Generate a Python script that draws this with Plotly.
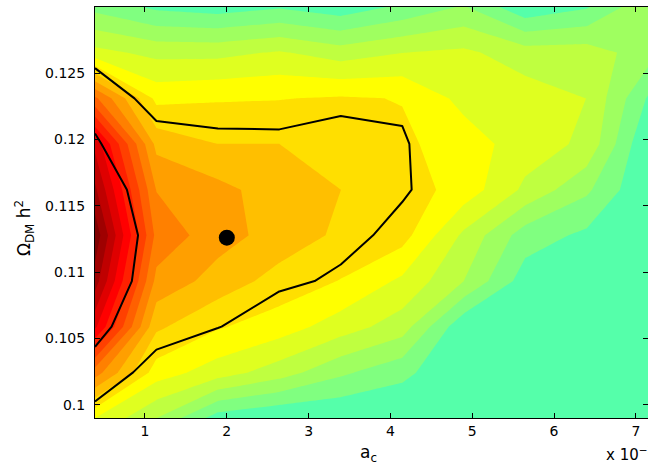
import plotly.graph_objects as go

# Grid of the scan: a_c (in units of 1e-3) and Omega_DM h^2
a_c = [0.389, 1.140, 1.891, 2.642, 3.393, 4.144, 4.895, 5.646, 6.397, 7.148]
omega_dm = [0.09900, 0.10244, 0.10589, 0.10933, 0.11278,
            0.11622, 0.11967, 0.12311, 0.12656, 0.13000]

# Mean likelihood (normalised to 1), rows = omega_dm, columns = a_c
mean_like = [
    [0.278, 0.167, 0.028, 0.000, 0.000, 0.000, 0.000, 0.000, 0.000, 0.000],
    [0.528, 0.306, 0.250, 0.194, 0.122, 0.072, 0.000, 0.000, 0.000, 0.000],
    [0.789, 0.400, 0.339, 0.306, 0.250, 0.194, 0.011, 0.000, 0.000, 0.000],
    [0.917, 0.483, 0.422, 0.367, 0.331, 0.267, 0.167, 0.028, 0.000, 0.000],
    [0.983, 0.539, 0.467, 0.422, 0.378, 0.356, 0.211, 0.083, 0.044, 0.000],
    [0.900, 0.498, 0.461, 0.417, 0.389, 0.361, 0.311, 0.211, 0.122, 0.000],
    [0.817, 0.428, 0.389, 0.389, 0.361, 0.344, 0.306, 0.250, 0.211, 0.000],
    [0.567, 0.317, 0.328, 0.331, 0.339, 0.331, 0.261, 0.250, 0.222, 0.050],
    [0.239, 0.206, 0.206, 0.228, 0.194, 0.221, 0.233, 0.194, 0.194, 0.139],
    [0.094, 0.044, 0.028, 0.050, 0.022, 0.067, 0.117, 0.011, 0.050, 0.156],
]

# Marginalised 2D density (normalised to 1)
marg_density = [
    [0.074, 0.020, 0.010, 0.005, 0.000, 0.000, 0.000, 0.000, 0.000, 0.000],
    [0.424, 0.063, 0.040, 0.030, 0.020, 0.010, 0.000, 0.000, 0.000, 0.000],
    [0.560, 0.338, 0.205, 0.122, 0.080, 0.040, 0.020, 0.010, 0.000, 0.000],
    [0.900, 0.233, 0.250, 0.223, 0.183, 0.140, 0.060, 0.020, 0.010, 0.000],
    [1.000, 0.286, 0.260, 0.240, 0.230, 0.173, 0.100, 0.040, 0.010, 0.000],
    [0.750, 0.269, 0.270, 0.260, 0.250, 0.210, 0.145, 0.060, 0.020, 0.000],
    [0.520, 0.331, 0.280, 0.270, 0.260, 0.215, 0.086, 0.040, 0.010, 0.000],
    [0.433, 0.070, 0.045, 0.051, 0.162, 0.177, 0.060, 0.020, 0.005, 0.000],
    [0.080, 0.020, 0.010, 0.010, 0.020, 0.020, 0.010, 0.000, 0.000, 0.000],
    [0.010, 0.000, 0.000, 0.000, 0.000, 0.000, 0.000, 0.000, 0.000, 0.000],
]
level_95 = 0.2
level_68 = 0.5

# Best-fit point
best_a_c = [2.0]
best_omega = [0.1126]

x_ticks = [1, 2, 3, 4, 5, 6, 7]
y_ticks = [0.1, 0.105, 0.11, 0.115, 0.12, 0.125]
y_tick_text = ["0.1", "0.105", "0.11", "0.115", "0.12", "0.125"]

# Discrete jet-like shading, one colour per likelihood band
band_colors = [
    "rgb(85,255,170)", "rgb(128,255,128)", "rgb(159,255,96)", "rgb(191,255,64)",
    "rgb(223,255,32)", "rgb(255,255,0)", "rgb(255,223,0)", "rgb(255,191,0)",
    "rgb(255,159,0)", "rgb(255,128,0)", "rgb(255,96,0)", "rgb(255,64,0)",
    "rgb(255,32,0)", "rgb(255,0,0)", "rgb(223,0,0)", "rgb(191,0,0)",
    "rgb(159,0,0)", "rgb(128,0,0)",
]
n_bands = len(band_colors)
colorscale = [[k / (n_bands - 1), c] for k, c in enumerate(band_colors)]
step = 1.0 / n_bands

fig = go.Figure()

fig.add_trace(go.Contour(
    x=a_c, y=omega_dm, z=mean_like,
    colorscale=colorscale, showscale=False,
    contours=dict(coloring="fill", showlines=False,
                  start=step, end=(n_bands - 1) * step, size=step),
    line=dict(width=0, smoothing=0),
    hoverinfo="skip",
))

fig.add_trace(go.Contour(
    x=a_c, y=omega_dm, z=marg_density,
    showscale=False,
    contours=dict(coloring="none", start=level_95, end=level_68,
                  size=level_68 - level_95),
    line=dict(color="black", width=2, smoothing=0),
    hoverinfo="skip",
))

fig.add_trace(go.Scatter(
    x=best_a_c, y=best_omega, mode="markers",
    marker=dict(color="black", size=16),
    hoverinfo="skip", showlegend=False,
))

font = dict(family="DejaVu Sans", size=14, color="black")
title_font = dict(family="DejaVu Sans", size=17, color="black")

fig.update_xaxes(
    range=[a_c[0], a_c[-1]], tickvals=x_ticks, ticks="inside", ticklen=5,
    tickcolor="black", showline=True, linecolor="black", linewidth=1,
    mirror="ticks", showgrid=False, zeroline=False, tickfont=font,
)
fig.update_yaxes(
    range=[omega_dm[0], omega_dm[-1]], tickvals=y_ticks, ticktext=y_tick_text,
    ticks="inside", ticklen=5, tickcolor="black", showline=True,
    linecolor="black", linewidth=1, mirror="ticks", showgrid=False,
    zeroline=False, tickfont=font, ticklabelstandoff=6,
)

# Axis labels and the x-axis multiplier
fig.add_annotation(
    text="a<sub>c</sub>", xref="paper", yref="paper",
    x=0.5, y=0, xanchor="center", yanchor="top", yshift=-22, xshift=-3,
    showarrow=False, font=title_font,
)
fig.add_annotation(
    text="Ω<sub>DM</sub> h<sup>2</sup>", xref="paper", yref="paper",
    x=0, y=0.462, xanchor="center", yanchor="middle", xshift=-71,
    textangle=-90, showarrow=False, font=title_font,
)
fig.add_annotation(
    text="x 10<sup>−3</sup>", xref="paper", yref="paper",
    x=0.9205, y=0, xanchor="left", yanchor="top", yshift=-24,
    showarrow=False, font=dict(family="DejaVu Sans", size=15, color="black"),
)

fig.update_layout(
    width=648, height=470,
    margin=dict(l=95, r=0, t=7, b=52),
    paper_bgcolor="white", plot_bgcolor="white",
    showlegend=False, font=font,
)

fig.write_html("out.html")
